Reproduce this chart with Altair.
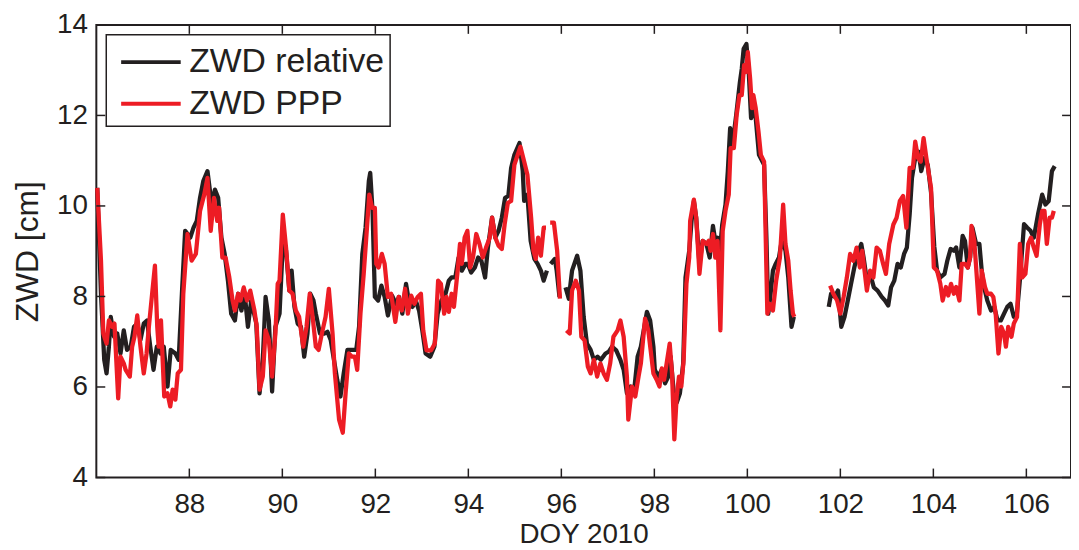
import altair as alt
import pandas as pd

# ---------------- data ----------------
# None marks a gap in the record
REL_DOY = [86.02, 86.10, 86.17, 86.22, 86.27, 86.31, 86.38, 86.45, 86.52, 86.59, 86.66, 86.74, 86.81, 86.88, 86.95,
           87.02, 87.09, 87.16, 87.23, 87.30, 87.38, 87.45, 87.53, 87.60, 87.70, 87.77, 87.84, 87.91, 88.02, 88.09,
           88.16, 88.23, 88.30, 88.39, 88.48, 88.55, 88.62, 88.69, 88.76, 88.83, 88.90, 88.98, 89.05, 89.12, 89.19,
           89.26, 89.33, 89.44, 89.51, 89.58, 89.64, 89.71, 89.78, 89.85, 89.94, 90.01, 90.08, 90.15, 90.20, 90.26,
           90.33, 90.40, 90.47, 90.54, 90.60, 90.67, 90.72, 90.81, 90.90, 90.97, 91.04, 91.11, 91.18, 91.25, 91.32,
           91.40, 91.50, 91.59, 91.65, 91.72, 91.79, 91.86, 91.89, 91.94, 91.99, 92.06, 92.13, 92.20, 92.27, 92.36,
           92.44, 92.51, 92.58, 92.66, 92.73, 92.80, 92.87, 92.94, 93.01, 93.08, 93.18, 93.27, 93.34, 93.42, 93.51,
           93.58, 93.64, 93.72, 93.79, 93.86, 93.94, 93.99, 94.06, 94.14, 94.21, 94.28, 94.36, 94.42, 94.51, 94.58,
           94.65, 94.72, 94.79, 94.86, 94.92, 94.99, 95.10, 95.17, 95.20, 95.27, 95.34, 95.42, 95.49, 95.56, 95.62,
           95.69, None, 95.77, 95.86, 95.90, 95.96, None,
           96.09, 96.16, 96.23, 96.34, 96.41, 96.48, 96.55, 96.63, 96.70, 96.78, 96.85, 96.95, 97.02, 97.09, 97.18,
           97.27, 97.34, 97.41, 97.49, 97.56, 97.64, 97.71, 97.84, 97.91, 97.98, 98.01, 98.08, 98.16, 98.23, 98.30,
           98.35, 98.42, 98.48, 98.55, 98.62, 98.67, 98.75, 98.80, 98.85, 98.90, 98.97, 99.04, 99.12, 99.19, 99.26,
           99.31, 99.36, 99.41, 99.46, 99.53, 99.58, 99.63, 99.68, 99.76, 99.84, 99.88, 99.92, 99.98, 100.03, 100.08,
           100.13, 100.18, 100.25, 100.36, 100.41, 100.45, 100.50, 100.55, 100.61, 100.68, 100.75, 100.82, 100.88,
           100.95, 101.00, None,
           101.75, 101.80, 101.88, 101.95, 102.02, 102.09, 102.16, 102.23, 102.30, 102.37, 102.45, 102.50, 102.57,
           102.64, 102.72, 102.80, 102.89, 102.96, 103.03, 103.09, 103.16, 103.23, 103.30, 103.37, 103.43, 103.49,
           103.54, 103.61, 103.68, 103.74, 103.81, 103.88, 103.95, 104.02, 104.08, 104.15, 104.24, 104.30, 104.37,
           104.44, 104.49, 104.56, 104.63, 104.68, 104.74, 104.79, 104.84, 104.92, 104.99, 105.04, 105.09, 105.16,
           105.24, 105.31, 105.38, 105.45, 105.52, 105.59, 105.66, 105.73, 105.79, 105.86, 105.95, 106.02, 106.09,
           106.16, 106.25, 106.34, 106.41, 106.48, 106.55, 106.61]
REL_ZWD = [10.40, 8.06, 6.60, 6.30, 6.89, 7.55, 7.11, 7.18, 6.74, 7.25, 6.82, 6.89, 7.33, 7.40, 7.04,
           7.40, 7.47, 6.89, 6.38, 6.89, 6.74, 6.89, 6.01, 6.82, 6.74, 6.60, 8.06, 9.45, 9.30, 9.52,
           9.67, 10.18, 10.55, 10.77, 10.03, 10.36, 10.18, 9.30, 8.94, 8.35, 7.62, 7.47, 8.06, 7.69, 8.06,
           7.33, 7.91, 7.40, 5.86, 6.60, 7.99, 7.47, 5.90, 7.33, 7.62, 9.16, 9.01, 8.13, 8.57, 7.77,
           7.40, 7.33, 6.67, 7.18, 8.06, 7.91, 7.62, 7.18, 7.18, 7.22, 7.04, 6.60, 6.16, 5.79, 6.30,
           6.82, 6.82, 6.82, 7.33, 8.94, 9.52, 10.55, 10.73, 9.89, 7.99, 7.91, 8.24, 7.99, 7.58, 8.02,
           7.84, 7.99, 7.62, 8.28, 7.84, 7.77, 7.91, 7.69, 7.25, 6.74, 6.67, 6.89, 7.62, 7.91, 8.06,
           8.35, 8.42, 8.42, 8.86, 8.57, 8.72, 8.72, 8.53, 8.64, 8.86, 8.79, 8.42, 9.08, 9.74, 9.30,
           9.45, 9.74, 10.18, 10.22, 10.84, 11.13, 11.39, 10.77, 10.11, 10.25, 9.23, 8.83, 8.72, 8.57, 8.35,
           8.57, None, 8.72, 8.83, 8.57, 7.99, None,
           8.20, 7.95, 8.57, 8.90, 8.57, 7.55, 6.96, 6.82, 6.60, 6.67, 6.60, 6.74, 6.78, 6.89, 6.81,
           6.60, 6.38, 5.86, 6.01, 5.86, 6.67, 6.89, 7.66, 7.47, 6.89, 6.38, 6.23, 6.38, 6.08, 6.23,
           6.67, 5.86, 5.65, 5.86, 6.52, 8.42, 9.01, 9.67, 10.11, 9.74, 8.72, 9.23, 9.16, 8.86, 9.56,
           9.23, 9.30, 9.01, 9.59, 10.03, 10.77, 11.72, 11.35, 12.01, 12.74, 13.03, 13.47, 13.58, 12.96, 11.94,
           12.16, 11.94, 11.13, 10.91, 9.30, 7.62, 8.06, 8.57, 8.72, 8.86, 9.30, 9.01, 8.42,
           7.33, 7.55, None,
           7.77, 8.06, 7.99, 8.13, 7.33, 7.55, 7.91, 8.28, 8.64, 8.94, 9.16, 8.86, 8.35,
           8.50, 8.20, 8.13, 7.99, 7.91, 7.80, 8.20, 8.35, 8.72, 8.64, 8.94, 9.08, 9.81,
           10.62, 11.06, 11.20, 10.77, 11.06, 10.90, 10.30, 9.10, 8.57, 8.42, 8.50, 8.79, 9.05,
           9.01, 9.08, 8.64, 9.34, 9.23, 8.64, 8.86, 9.52, 9.16, 9.16, 8.57, 8.21, 7.91,
           7.69, 7.77, 7.47, 7.47, 7.62, 7.77, 7.84, 7.55, 7.55, 8.35, 9.60, 9.52, 9.45,
           9.30, 9.81, 10.25, 10.03, 10.11, 10.77, 10.88]

PPP_DOY = [86.02, 86.10, 86.15, 86.22, 86.27, 86.34, 86.39, 86.47, 86.52, 86.59, 86.63, 86.72, 86.77, 86.82, 86.88,
           86.95, 87.02, 87.08, 87.13, 87.20, 87.26, 87.31, 87.34, 87.39, 87.46, 87.53, 87.59, 87.64, 87.70, 87.75,
           87.82, 87.87, 87.96, 88.05, 88.14, 88.23, 88.32, 88.39, 88.46, 88.53, 88.60, 88.64, 88.71, 88.78, 88.86,
           88.93, 88.98, 89.05, 89.10, 89.17, 89.24, 89.31, 89.40, 89.45, 89.51, 89.58, 89.64, 89.71, 89.78, 89.85,
           89.90, 89.94, 90.01, 90.08, 90.15, 90.22, 90.29, 90.36, 90.45, 90.52, 90.59, 90.66, 90.72, 90.78, 90.85,
           90.93, 91.00, 91.08, 91.13, 91.22, 91.30, 91.36, 91.43, 91.50, 91.56, 91.61, 91.68, 91.75, 91.82, 91.87,
           91.93, 91.99, 92.02, 92.07, 92.14, 92.20, 92.27, 92.34, 92.43, 92.50, 92.57, 92.64, 92.70, 92.77, 92.84,
           92.91, 92.98, 93.03, 93.10, 93.20, 93.28, 93.35, 93.41, 93.48, 93.53, 93.58, 93.64, 93.69, 93.77, 93.82,
           93.86, 93.92, 93.98, 94.04, 94.10, 94.17, 94.24, 94.31, 94.38, 94.46, 94.51, 94.58, 94.65, 94.72, 94.78,
           94.85, 94.92, 94.99, 95.12, 95.20, 95.27, 95.35, 95.40, 95.45, 95.50, 95.56, 95.62, 95.67, None,
           95.76, 95.84, 95.91, 95.97, None,
           96.11, 96.18, 96.23, 96.31, 96.38, 96.43, 96.50, 96.57, 96.63, 96.70, 96.77, 96.84, 96.91, 96.98, 97.05,
           97.12, 97.21, 97.27, 97.34, 97.41, 97.44, 97.52, 97.59, 97.66, 97.71, 97.80, 97.87, 97.98, 98.05, 98.11,
           98.16, 98.21, 98.28, 98.33, 98.38, 98.43, 98.48, 98.53, 98.58, 98.63, 98.69, 98.75, 98.77, 98.85, 98.90,
           98.97, 99.04, 99.12, 99.17, 99.21, 99.26, 99.31, 99.36, 99.42, 99.47, 99.53, 99.60, 99.64, 99.71, 99.77,
           99.83, 99.88, 99.93, 99.97, 100.01, 100.06, 100.10, 100.13, 100.18, 100.24, 100.29, 100.36, 100.43, 100.48,
           100.55, 100.62, 100.70, 100.77, 100.82, 100.88, 100.93, 100.98, 101.01, None,
           101.78, 101.85, 101.93, 102.00, 102.07, 102.14, 102.21, 102.28, 102.35, 102.42, 102.47, 102.57, 102.64,
           102.71, 102.78, 102.85, 102.92, 102.98, 103.05, 103.14, 103.21, 103.28, 103.35, 103.42, 103.49, 103.56,
           103.61, 103.67, 103.73, 103.79, 103.85, 103.95, 104.01, 104.08, 104.15, 104.20, 104.27, 104.32, 104.38,
           104.44, 104.49, 104.56, 104.61, 104.68, 104.74, 104.79, 104.82, 104.88, 104.94, 104.99, 105.04, 105.11,
           105.16, 105.24, 105.29, 105.34, 105.40, 105.46, 105.52, 105.56, 105.61, 105.68, 105.73, 105.80, 105.86,
           105.91, 105.98, 106.04, 106.10, 106.16, 106.22, 106.29, 106.34, 106.39, 106.44, 106.50, 106.55, 106.59]
PPP_ZWD = [10.40, 8.79, 7.18, 6.96, 7.47, 7.33, 7.40, 5.75, 6.67, 6.52, 6.38, 6.23, 6.89, 7.11, 7.58,
           6.89, 6.30, 6.74, 7.33, 8.06, 8.68, 7.33, 6.89, 7.47, 5.79, 5.86, 5.57, 5.94, 5.72, 6.30,
           6.38, 8.06, 9.38, 8.79, 8.94, 9.89, 10.25, 10.62, 9.45, 10.18, 9.67, 9.96, 8.86, 8.86, 8.42,
           7.91, 7.69, 8.06, 7.91, 8.20, 7.91, 8.13, 7.69, 7.33, 5.94, 6.23, 7.25, 7.04, 6.23, 7.18,
           8.28, 8.35, 9.81, 9.08, 8.13, 8.06, 7.69, 7.55, 6.89, 7.33, 8.06, 7.47, 6.89, 6.82, 7.18,
           7.55, 8.17, 7.18, 6.30, 5.28, 4.99, 5.86, 6.74, 6.67, 6.67, 6.38, 7.62, 8.50, 9.52, 10.25,
           9.96, 9.96, 8.72, 8.64, 8.94, 8.72, 7.99, 8.06, 7.44, 7.99, 7.69, 8.17, 7.62, 8.02, 7.84,
           7.99, 8.06, 7.25, 6.81, 6.81, 6.96, 8.35, 8.28, 7.62, 7.99, 7.66, 8.06, 7.77, 8.57, 9.16,
           8.72, 9.30, 9.45, 8.64, 8.86, 9.38, 9.16, 8.86, 9.08, 9.30, 9.74, 9.30, 9.12, 9.05, 9.59,
           10.07, 10.11, 10.91, 11.31, 10.98, 10.69, 9.74, 9.01, 8.83, 9.30, 8.90, 9.52, 9.52, None,
           9.63, 9.63, 9.01, 7.95, None,
           7.25, 7.18, 8.13, 8.35, 8.13, 7.11, 7.03, 6.45, 6.30, 6.60, 6.23, 6.52, 6.30, 6.16, 6.52,
           7.11, 7.25, 7.47, 7.11, 6.23, 5.28, 6.01, 5.79, 6.23, 6.52, 7.51, 7.25, 6.30, 6.16, 6.01,
           6.41, 6.16, 6.63, 6.96, 6.30, 4.84, 5.79, 6.23, 6.01, 6.60, 8.28, 8.86, 9.67, 10.14, 9.74,
           8.50, 9.23, 9.16, 9.23, 9.01, 9.38, 8.86, 9.23, 7.25, 9.45, 9.89, 10.25, 11.28, 11.28, 12.01,
           12.45, 12.45, 13.11, 12.96, 13.40, 12.81, 12.16, 12.45, 12.16, 11.64, 11.13, 10.98, 7.62, 7.84,
           7.69, 8.35, 8.86, 10.03, 9.16, 8.79, 8.13, 7.62, 7.55, None,
           8.24, 8.06, 7.91, 7.62, 7.99, 8.42, 8.94, 8.79, 9.08, 8.64, 9.01, 8.13, 8.57,
           8.42, 9.08, 9.01, 8.72, 8.50, 9.16, 9.59, 9.74, 10.11, 10.22, 9.52, 10.84, 10.84,
           11.42, 11.06, 10.98, 11.50, 11.06, 10.40, 8.64, 8.57, 8.28, 7.91, 8.21, 8.02, 8.28,
           8.06, 8.21, 7.91, 8.72, 8.72, 8.64, 8.86, 9.56, 9.23, 8.35, 7.62, 8.57, 8.21,
           8.06, 8.06, 7.99, 7.62, 6.74, 7.33, 7.18, 6.89, 7.33, 7.11, 7.40, 7.55, 9.16,
           8.42, 8.50, 9.16, 9.30, 9.08, 8.90, 9.60, 9.89, 9.89, 9.16, 9.74, 9.74, 9.89]

SERIES = ["ZWD relative", "ZWD PPP"]
COLORS = ["#231f20", "#ed1c24"]
X_TICKS = [88, 90, 92, 94, 96, 98, 100, 102, 104, 106]
Y_TICKS = [4, 6, 8, 10, 12, 14]
X_DOMAIN = [86, 106.96]
Y_DOMAIN = [4, 14]


def to_frame(name, doys, vals):
    rows, seg = [], 0
    for d, v in zip(doys, vals):
        if d is None or v is None:
            seg += 1
            continue
        rows.append({"doy": d, "zwd": v, "series": name, "seg": seg})
    return pd.DataFrame(rows)


rel = to_frame(SERIES[0], REL_DOY, REL_ZWD)
ppp = to_frame(SERIES[1], PPP_DOY, PPP_ZWD)

W, H = 982, 456
FONT = "Liberation Sans"
INK = "#231f20"
TICK = 9

xscale = alt.Scale(domain=X_DOMAIN, nice=False, zero=False)
yscale = alt.Scale(domain=Y_DOMAIN, nice=False, zero=False)
cscale = alt.Scale(domain=SERIES, range=COLORS)

xaxis = alt.Axis(values=X_TICKS, title="DOY 2010", grid=False, domain=False, ticks=False,
                 labelFontSize=28, labelPadding=13, titleFontSize=28, titlePadding=2,
                 titleFontWeight="normal", labelFont=FONT, titleFont=FONT,
                 labelColor=INK, titleColor=INK, labelFlush=False)
yaxis = alt.Axis(values=Y_TICKS, title="ZWD [cm]", grid=False, domain=False, ticks=False,
                 labelFontSize=28, labelPadding=9, titleFontSize=32, titlePadding=12,
                 titleFontWeight="normal", labelFont=FONT, titleFont=FONT,
                 labelColor=INK, titleColor=INK, labelFlush=False)

legend = alt.Legend(title=None, orient="top-left", offset=10, labelFontSize=34, labelFont=FONT,
                    labelColor=INK, labelLimit=500, symbolType="M-0.625,0H2.375", symbolSize=1600,
                    symbolStrokeWidth=4, rowPadding=3, padding=5.5, labelOffset=34,
                    strokeColor=INK, fillColor="white")


def line(df):
    return alt.Chart(df).mark_line(strokeWidth=4.3, strokeJoin="round").encode(
        x=alt.X("doy:Q", scale=xscale, axis=xaxis),
        y=alt.Y("zwd:Q", scale=yscale, axis=yaxis),
        color=alt.Color("series:N", scale=cscale, legend=legend),
        detail="seg:N",
    )


xt = pd.DataFrame({"v": X_TICKS})
yt = pd.DataFrame({"v": Y_TICKS})
tick_style = dict(color=INK, strokeWidth=1.5)
bottom_ticks = alt.Chart(xt).mark_rule(**tick_style).encode(
    x=alt.X("v:Q", scale=xscale, axis=xaxis), y=alt.value(H), y2=alt.value(H - TICK))
top_ticks = alt.Chart(xt).mark_rule(**tick_style).encode(
    x=alt.X("v:Q", scale=xscale, axis=xaxis), y=alt.value(0), y2=alt.value(TICK))
left_ticks = alt.Chart(yt).mark_rule(**tick_style).encode(
    y=alt.Y("v:Q", scale=yscale, axis=yaxis), x=alt.value(0), x2=alt.value(TICK))
right_ticks = alt.Chart(yt).mark_rule(**tick_style).encode(
    y=alt.Y("v:Q", scale=yscale, axis=yaxis), x=alt.value(W - TICK), x2=alt.value(W))

chart = alt.layer(
    line(rel), line(ppp), bottom_ticks, top_ticks, left_ticks, right_ticks
).properties(
    width=W, height=H,
    autosize=alt.AutoSizeParams(type="none"),
    padding={"left": 89, "top": 15, "right": 0, "bottom": 71},
).configure_view(
    stroke=INK, strokeWidth=2
).configure_legend(
    strokeWidth=1.5
)

chart.save("out.html", embed_options={"renderer": "svg", "actions": False})
